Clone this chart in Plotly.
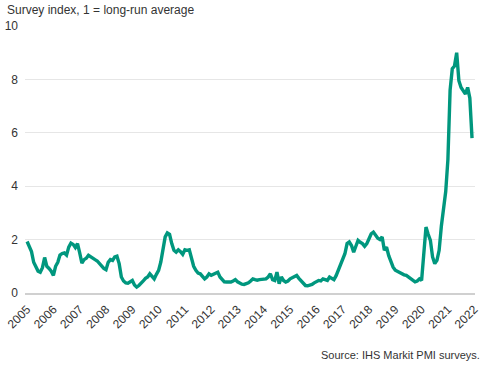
import plotly.graph_objects as go

# Monthly survey index values, Jan 2005 - Dec 2021
v2005 = [1.93, 1.72, 1.55, 1.15, 0.95, 0.82, 0.78, 0.95, 1.33, 1.0, 0.92, 0.82]
v2006 = [0.66, 1.0, 1.15, 1.42, 1.48, 1.5, 1.42, 1.72, 1.87, 1.82, 1.7, 1.85]
v2007 = [1.5, 1.12, 1.25, 1.3, 1.41, 1.35, 1.28, 1.25, 1.2, 1.1, 0.98, 0.92]
v2008 = [0.87, 1.15, 1.25, 1.22, 1.35, 1.38, 1.1, 0.6, 0.45, 0.38, 0.37, 0.42]
v2009 = [0.47, 0.3, 0.22, 0.28, 0.35, 0.45, 0.55, 0.6, 0.72, 0.6, 0.53, 0.7]
v2010 = [0.85, 1.16, 1.6, 2.1, 2.25, 2.2, 1.85, 1.6, 1.53, 1.62, 1.55, 1.45]
v2011 = [1.62, 1.6, 1.62, 1.35, 1.0, 0.85, 0.75, 0.72, 0.62, 0.53, 0.6, 0.72]
v2012 = [0.66, 0.7, 0.75, 0.78, 0.6, 0.5, 0.42, 0.41, 0.4, 0.41, 0.45, 0.5]
v2013 = [0.42, 0.36, 0.33, 0.32, 0.35, 0.38, 0.45, 0.53, 0.5, 0.48, 0.5, 0.5]
v2014 = [0.5, 0.53, 0.6, 0.72, 0.5, 0.47, 0.78, 0.35, 0.6, 0.47, 0.41, 0.45]
v2015 = [0.53, 0.58, 0.62, 0.66, 0.55, 0.47, 0.35, 0.28, 0.27, 0.28, 0.32, 0.38]
v2016 = [0.41, 0.47, 0.45, 0.53, 0.5, 0.47, 0.6, 0.55, 0.5, 0.65, 0.85, 1.03]
v2017 = [1.2, 1.47, 1.85, 1.91, 1.78, 1.53, 1.75, 1.97, 1.9, 1.85, 1.75, 1.85]
v2018 = [2.03, 2.22, 2.28, 2.16, 2.05, 2.0, 2.1, 1.6, 1.72, 1.4, 1.16, 0.97]
v2019 = [0.85, 0.8, 0.78, 0.72, 0.68, 0.66, 0.6, 0.53, 0.47, 0.42, 0.45, 0.53]
v2020 = [0.47, 1.47, 2.47, 2.2, 1.97, 1.35, 1.1, 1.22, 1.6, 2.5, 3.1, 3.8]
v2021 = [5.0, 7.6, 8.4, 8.5, 9.0, 7.95, 7.7, 7.6, 7.45, 7.7, 7.3, 5.8]

years = list(range(2005, 2022))
values = (v2005 + v2006 + v2007 + v2008 + v2009 + v2010 + v2011 + v2012 + v2013
          + v2014 + v2015 + v2016 + v2017 + v2018 + v2019 + v2020 + v2021)
x_vals = [y + m / 12 for y in years for m in range(12)]

tick_years = list(range(2005, 2023))
tick_labels = [str(y) for y in tick_years]
y_ticks = [0, 2, 4, 6, 8, 10]

FONT = "Arial, Liberation Sans, sans-serif"

fig = go.Figure()
fig.add_trace(go.Scatter(
    x=x_vals, y=values, mode="lines",
    line=dict(color="#00977e", width=3.4),
    hoverinfo="skip", showlegend=False,
))

fig.update_layout(
    width=492, height=368,
    margin=dict(l=25, r=17, t=26, b=75, autoexpand=False),
    paper_bgcolor="white", plot_bgcolor="white",
    font=dict(family=FONT, size=12, color="#333333"),
    xaxis=dict(
        range=[2004.92, 2022.03], automargin=False,
        tickmode="array", tickvals=tick_years, ticktext=tick_labels,
        tickangle=-45, showgrid=False, zeroline=False,
        showline=True, linecolor="#d0d0d0", linewidth=1.5,
        ticklabelstandoff=3,
        tickfont=dict(size=12, color="#333333"),
    ),
    yaxis=dict(
        range=[0, 10], tickmode="array", tickvals=y_ticks, automargin=False,
        showgrid=True, gridcolor="#e6e6e6", gridwidth=1,
        zeroline=False, showline=False,
        ticklabelstandoff=6,
        tickfont=dict(size=12, color="#333333"),
    ),
    annotations=[
        dict(text="Survey index, 1 = long-run average", xref="paper", yref="paper",
             x=-0.044, y=1.06, xanchor="left", yanchor="middle", showarrow=False,
             font=dict(size=12, color="#333333")),
        dict(text="Source: IHS Markit PMI surveys.", xref="paper", yref="paper",
             x=1.0156, y=-0.234, xanchor="right", yanchor="middle", showarrow=False,
             font=dict(size=11, color="#333333")),
    ],
)

fig.write_html("out.html", config={"displayModeBar": False},
               post_script="document.body.style.margin='0';")
